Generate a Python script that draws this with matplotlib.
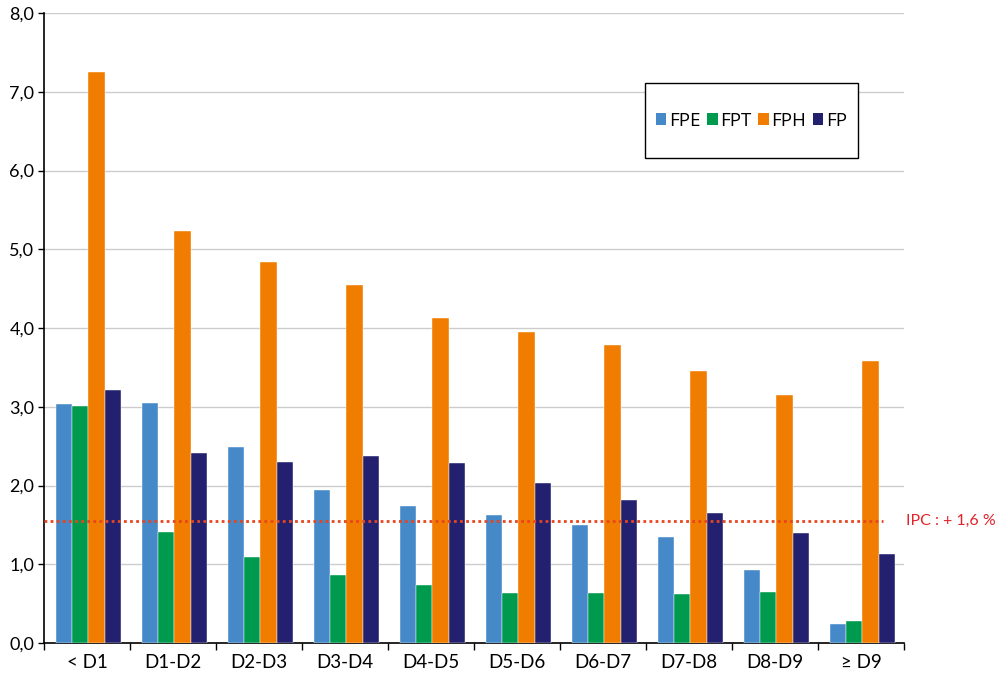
import numpy as np
import matplotlib
matplotlib.use("Agg")
import matplotlib.pyplot as plt
from matplotlib.patches import Patch, Rectangle

# categories and values
categories = ["< D1", "D1-D2", "D2-D3", "D3-D4", "D4-D5", "D5-D6", "D6-D7", "D7-D8", "D8-D9", "≥ D9"]
fpe = [3.03, 3.05, 2.49, 1.94, 1.74, 1.63, 1.50, 1.35, 0.93, 0.24]
fpt = [3.01, 1.41, 1.09, 0.86, 0.74, 0.63, 0.63, 0.62, 0.65, 0.28]
fph = [7.25, 5.23, 4.84, 4.55, 4.13, 3.95, 3.78, 3.45, 3.15, 3.58]
fp = [3.21, 2.41, 2.30, 2.37, 2.29, 2.03, 1.82, 1.65, 1.40, 1.13]
series_names = ["FPE", "FPT", "FPH", "FP"]
ipc = 1.55
ipc_label = "IPC : + 1,6 %"
yticks = [0, 1, 2, 3, 4, 5, 6, 7, 8]

colors = ["#4589C8", "#009A4E", "#F07D00", "#232070"]

plt.rcParams["font.family"] = ["Lato", "DejaVu Sans"]

fig = plt.figure(figsize=(10.08, 6.73), dpi=100)
ax = fig.add_axes([44 / 1008, 30 / 673, 860 / 1008, 630 / 673])

x = np.arange(len(categories))
w = 0.19
for i, (vals, c) in enumerate(zip([fpe, fpt, fph, fp], colors)):
    ax.bar(x + (i - 1.5) * w + 0.015, vals, width=w, color=c, zorder=3,
           edgecolor="white", linewidth=0.3)

ax.set_xlim(-0.5, len(categories) - 0.5)
ax.set_ylim(0, 8)
ax.set_yticks(yticks)
ax.set_yticklabels([f"{v:.1f}".replace(".", ",") for v in yticks], fontsize=13)
ax.yaxis.grid(True, color="#CCCCCC", linewidth=1, zorder=0)

ax.set_xticks(x)
ax.set_xticklabels(categories, fontsize=13.5)
ax.set_xticks(np.arange(len(categories) + 1) - 0.5, minor=True)
ax.tick_params(axis="x", which="major", length=0, pad=8)
ax.tick_params(axis="x", which="minor", length=5, width=1, color="black")
ax.tick_params(axis="y", length=4, width=1, color="black", pad=3)

for s in ["top", "right"]:
    ax.spines[s].set_visible(False)
ax.spines["left"].set_linewidth(1.2)
ax.spines["bottom"].set_linewidth(1.2)

# IPC reference line
ax.plot([-0.5, 9.25], [ipc, ipc], color="#E8441E", linestyle=(0, (1, 1.2)),
        linewidth=2, zorder=4)
ax.text(9.52, ipc, ipc_label, color="#E2232A", fontsize=11.5, va="center",
        ha="left", clip_on=False)

# legend box
bx, by, bw, bh = 601 / 860, 485 / 630, 213 / 860, 75 / 630
ax.add_patch(Rectangle((bx, by), bw, bh, transform=ax.transAxes, facecolor="white",
                       edgecolor="black", linewidth=1, zorder=5))
handles = [Patch(facecolor=c, label=n) for c, n in zip(colors, series_names)]
leg = ax.legend(handles=handles, ncol=4, loc="center",
                bbox_to_anchor=(bx + bw / 2, by + bh / 2), frameon=False,
                handlelength=0.55, handleheight=0.55, handletextpad=0.15,
                columnspacing=0.35, borderaxespad=0,
                prop={"family": ["Open Sans", "DejaVu Sans"], "size": 13.5})
leg.set_zorder(6)

fig.savefig("out.png", dpi=100)
